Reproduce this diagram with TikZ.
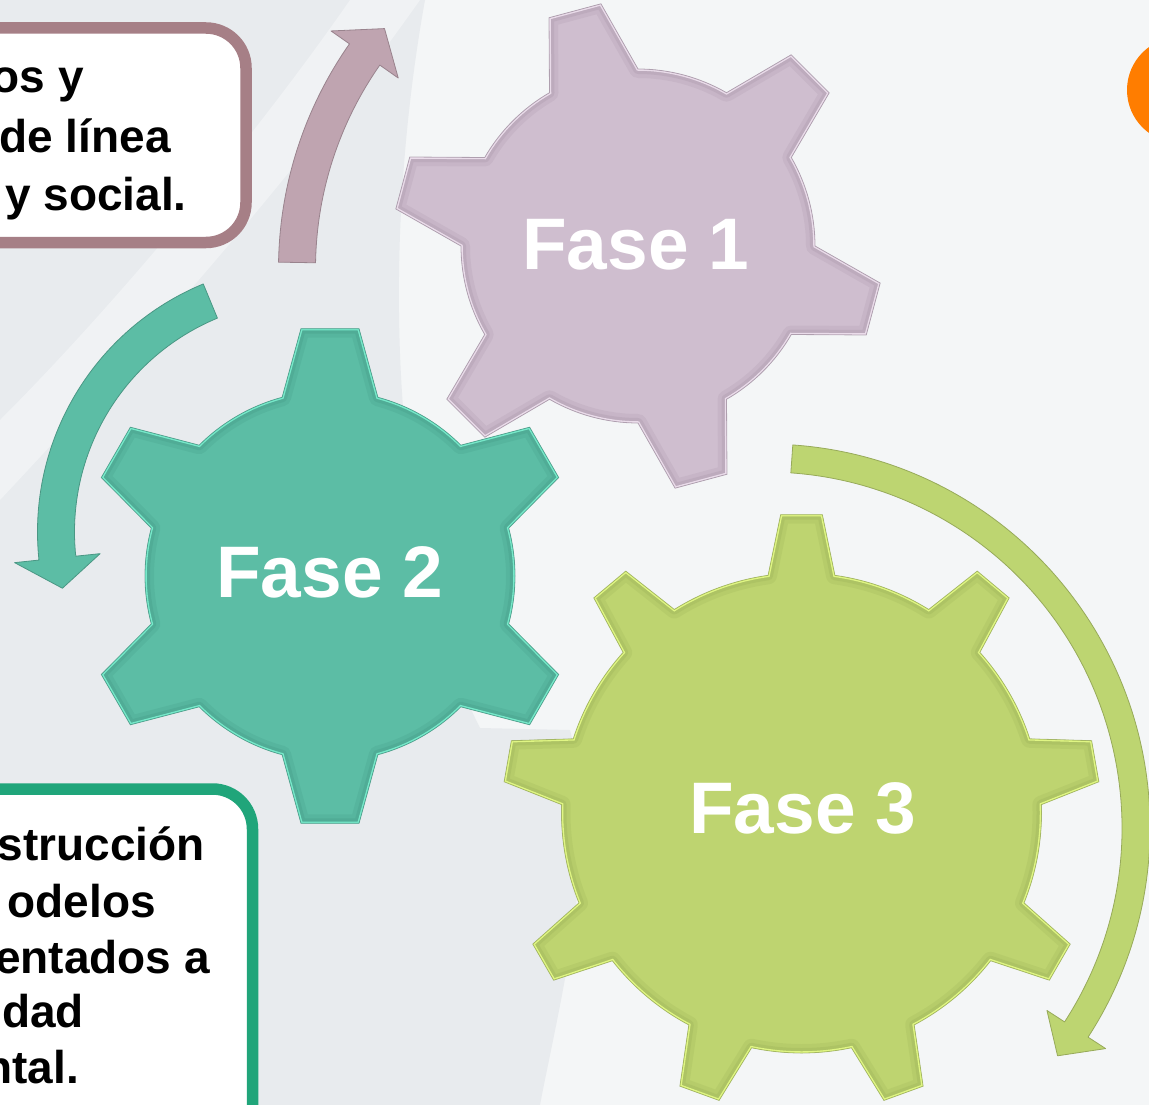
\documentclass[tikz,border=0pt]{standalone}
\usepackage{fontspec}
\setmainfont{Liberation Sans}
\definecolor{bgbase}{HTML}{F4F6F7}
\definecolor{bggray}{HTML}{E8EBEE}
\definecolor{bglight}{HTML}{F0F2F4}
\definecolor{g1fill}{HTML}{CFBECF}
\definecolor{g1dark}{HTML}{8F7C8F}
\definecolor{g1light}{HTML}{EFE2EF}
\definecolor{g2fill}{HTML}{5CBDA5}
\definecolor{g2dark}{HTML}{327F6E}
\definecolor{g2light}{HTML}{7CF0D0}
\definecolor{g3fill}{HTML}{BED470}
\definecolor{g3dark}{HTML}{849845}
\definecolor{g3light}{HTML}{E6FC88}
\definecolor{arrpink}{HTML}{BFA4B0}
\definecolor{arrteal}{HTML}{5CBDA5}
\definecolor{arrgreen}{HTML}{BDD571}
\definecolor{boxpink}{HTML}{A67F86}
\definecolor{boxgreen}{HTML}{20A57A}
\definecolor{orangec}{HTML}{FF7D00}
% gear outline: #1 first tooth angle, #2 teeth, #3 body radius, #4 tip radius, #5 base half-angle, #6 tip half-angle
\newcommand{\gearpath}[6]{({#1-#5}:#3) \foreach \i in {1,...,#2}{ -- ({#1+(\i-1)*360/#2-#6}:#4) -- ({#1+(\i-1)*360/#2+#6}:#4) -- ({#1+(\i-1)*360/#2+#5}:#3) arc[start angle={#1+(\i-1)*360/#2+#5}, end angle={#1+\i*360/#2-#5}, radius=#3]} -- cycle}
\newcommand{\drawgear}[9]{%
\begin{scope}[shift={(#1,#2)}]
\fill[#9fill] \gearpath{#3}{#4}{#5}{#6}{#7}{#8};
\begin{scope}
\clip \gearpath{#3}{#4}{#5}{#6}{#7}{#8};
\draw[#9dark, line width=18pt, opacity=.12, line join=round] \gearpath{#3}{#4}{#5}{#6}{#7}{#8};
\draw[#9dark, line width=10pt, opacity=.16, line join=round] \gearpath{#3}{#4}{#5}{#6}{#7}{#8};
\draw[#9light, line width=3.5pt, opacity=.9] \gearpath{#3}{#4}{#5}{#6}{#7}{#8};
\end{scope}
\draw[#9dark, line width=0.8pt, opacity=.6] \gearpath{#3}{#4}{#5}{#6}{#7}{#8};
\end{scope}}
% curved arrow: #1 cx, #2 cy, #3 r, #4 half width, #5 start angle, #6 head base angle, #7 head half width, #8 tip angle, #9 colour
\newcommand{\bentarrow}[9]{%
\begin{scope}[shift={(#1,#2)}]
\filldraw[fill=#9, draw=#9!80!black, line width=0.8pt, line join=round] ({#5}:{#3+#4}) arc[start angle={#5}, end angle={#6}, radius={#3+#4}] -- ({#6}:{#3+#7}) -- ({#8}:{#3}) -- ({#6}:{#3-#7}) -- ({#6}:{#3-#4}) arc[start angle={#6}, end angle={#5}, radius={#3-#4}] -- cycle;
\end{scope}}
\tikzset{
  fasetext/.style={text=white, font=\bfseries\fontsize{73}{80}\selectfont, inner sep=0pt},
  boxtext/.style={text=black, font=\bfseries\fontsize{46}{55}\selectfont, inner sep=0pt, anchor=base east},
  infobox/.style={fill=white, line width=11.5pt, rounded corners=40pt}
}
\begin{document}
\begin{tikzpicture}[x=1pt,y=1pt]
\useasboundingbox (0,0) rectangle (1149,-1105);
% background
\fill[bgbase] (0,0) rectangle (1149,-1105);
\fill[bggray] (0,0) -- (425,0) .. controls (380,-250) and (390,-550) .. (480,-728) -- (570,-730) .. controls (600,-850) and (560,-1000) .. (540,-1105) -- (0,-1105) -- cycle;
\fill[bglight] (0,-420) .. controls (120,-300) and (260,-130) .. (350,0) -- (420,0) .. controls (300,-170) and (150,-340) .. (0,-500) -- cycle;
% orange circle
\fill[orangec] (1180,-90) circle[radius=53];
% text boxes
\draw[infobox, draw=boxpink] (-200,-28) rectangle (246,-242.5);
\node[boxtext] (t1a) at (84,-93) {os y};
\node[boxtext] (t1b) at (171,-153) {de línea};
\node[boxtext] (t1c) at (187,-210) {y social.};
\draw[infobox, draw=boxgreen] (-200,-789) rectangle (252.5,-1250);
\node[boxtext] (t2a) at (205,-860) {strucción};
\node[boxtext] (t2b) at (156,-917) {odelos};
\node[boxtext] (t2c) at (210,-973) {entados a};
\node[boxtext] (t2d) at (84,-1027) {dad};
\node[boxtext] (t2e) at (79,-1083) {ntal.};
% gears
\drawgear{638}{-246}{-15}{6}{177}{245}{15}{6.3}{g1}
\drawgear{330}{-576}{30}{6}{185}{249}{15}{6.7}{g2}
\drawgear{801.5}{-813}{90}{9}{240}{299}{8}{4}{g3}
\node[fasetext] (f1) at (636,-245) {Fase 1};
\node[fasetext] (f2) at (330,-572) {Fase 2};
\node[fasetext] (f3) at (803,-808) {Fase 3};
% arrows
\bentarrow{671}{-269}{374}{18.5}{179}{145}{41}{140}{arrpink}
\bentarrow{306}{-532}{250}{18.5}{112.5}{186}{43}{193}{arrteal}
\bentarrow{766}{-828}{370}{14}{86}{-33}{35}{-38}{arrgreen}
\end{tikzpicture}
\end{document}
